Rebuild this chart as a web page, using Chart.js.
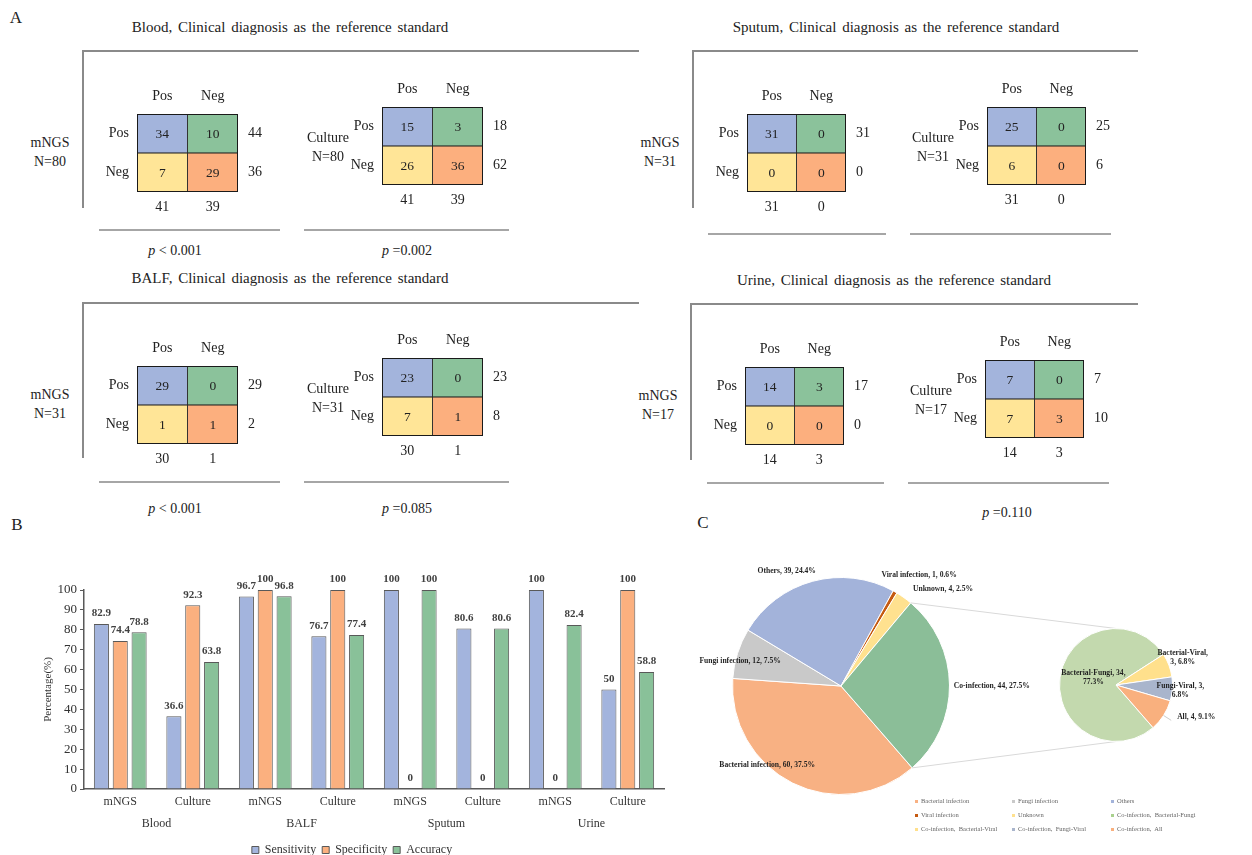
<!DOCTYPE html>
<html>
<head>
<meta charset="utf-8">
<title>mNGS vs culture</title>
<script src="https://cdn.jsdelivr.net/npm/chart.js@4.4.1/dist/chart.umd.min.js"></script>
<style>
  html, body { margin: 0; padding: 0; }
  body { width: 1252px; height: 855px; position: relative; overflow: hidden; background: #fff;
         font-family: 'Liberation Serif', 'Times New Roman', serif; color: #222; }
  .t { position: absolute; white-space: nowrap; transform: translate(-50%, -50%); line-height: 1.35; text-align: center; }
  .ln { position: absolute; }
  canvas { position: absolute; }
  #legendC { position: absolute; left: 915px; top: 797px; display: grid; grid-template-columns: 97px 99px 100px;
             grid-auto-rows: 14px; font-size: 6.5px; color: #666; white-space: pre; }
  #legendC .m { display: inline-block; width: 3px; height: 3px; margin-right: 3px; vertical-align: middle; }
</style>
</head>
<body>
<script>
Chart.defaults.font.family = "'Liberation Serif', 'Times New Roman', serif";
Chart.defaults.color = '#222';
Chart.defaults.animation = false;

// ---- A: 2x2 tables, cells = [Pos/Pos, Pos/Neg, Neg/Pos, Neg/Neg]
// rows = test result, columns = clinical diagnosis
const bloodMngs = [34, 10, 7, 29];
const bloodCulture = [15, 3, 26, 36];
const sputumMngs = [31, 0, 0, 0];
const sputumCulture = [25, 0, 6, 0];
const balfMngs = [29, 0, 1, 1];
const balfCulture = [23, 0, 7, 1];
const urineMngs = [14, 3, 0, 0];
const urineCulture = [7, 0, 7, 3];
const testNames = ['mNGS', 'Culture'];
const posNeg = ['Pos', 'Neg'];
const pBlood = ['< 0.001', '=0.002'];
const pSputum = [null, null];
const pBalf = ['< 0.001', '=0.085'];
const pUrine = [null, '=0.110'];

// ---- B: performance (%)
const methods = ['mNGS', 'Culture', 'mNGS', 'Culture', 'mNGS', 'Culture', 'mNGS', 'Culture'];
const sampleTypes = ['Blood', 'BALF', 'Sputum', 'Urine'];
const sensitivity = [82.9, 36.6, 96.7, 76.7, 100, 80.6, 100, 50];
const specificity = [74.4, 92.3, 100, 100, 0, 0, 0, 100];
const accuracy = [78.8, 63.8, 96.8, 77.4, 100, 80.6, 82.4, 58.8];
const yTicks = [0, 10, 20, 30, 40, 50, 60, 70, 80, 90, 100];

// ---- C: infection types
const infectionTypes = ['Bacterial infection', 'Fungi infection', 'Others', 'Viral infection', 'Unknown', 'Co-infection'];
const infectionCounts = [60, 12, 39, 1, 4, 44];
const coinfectionTypes = ['Bacterial-Fungi', 'Bacterial-Viral', 'Fungi-Viral', 'All'];
const coinfectionCounts = [34, 3, 3, 4];

// colours
const cellBlue = '#A3B4DC', cellGreen = '#8BC29B', cellYellow = '#FFE597', cellOrange = '#FCAF7E';
const barColors = ['#A3B4DD', '#FBB07F', '#89C199'];
const mainColors = ['#F8B183', '#C9C9C9', '#A3B3DA', '#C55A11', '#FFE18F', '#8BBE98'];
const secColors = ['#C3D9AE', '#FFE08C', '#A9B5CC', '#F9B07E'];

// ---------- helpers
function label(x, y, html, css) {
  const d = document.createElement('div');
  d.className = 't';
  d.style.left = x + 'px';
  d.style.top = y + 'px';
  d.innerHTML = html;
  if (css) d.style.cssText += css;
  document.body.appendChild(d);
  return d;
}
function rule(x, y, w, h, color) {
  const d = document.createElement('div');
  d.className = 'ln';
  d.style.cssText += `left:${x}px;top:${y}px;width:${w}px;height:${h}px;background:${color};`;
  document.body.appendChild(d);
}
function canvasAt(x, y, w, h) {
  const cv = document.createElement('canvas');
  cv.width = w; cv.height = h;
  cv.style.left = x + 'px'; cv.style.top = y + 'px';
  cv.style.width = w + 'px'; cv.style.height = h + 'px';
  document.body.appendChild(cv);
  return cv;
}

// ---------- A
const cellText = {
  id: 'cellText',
  afterDatasetsDraw(chart) {
    const ctx = chart.ctx, a = chart.chartArea;
    ctx.save();
    ctx.strokeStyle = '#1a1a1a';
    ctx.lineWidth = 1;
    ctx.strokeRect(a.left + 0.5, a.top + 0.5, a.right - a.left - 1, a.bottom - a.top - 1);
    ctx.font = '13.5px "Liberation Serif"';
    ctx.fillStyle = '#222';
    ctx.textAlign = 'center';
    ctx.textBaseline = 'middle';
    chart.data.datasets.forEach((ds, i) => {
      chart.getDatasetMeta(i).data.forEach((bar, j) => {
        ctx.fillText(String(ds.counts[j]), bar.x, (bar.y + bar.base) / 2 + 1);
      });
    });
    ctx.restore();
  }
};

function makeTable(cells, x, y, w, h) {
  const L = 40, R = 40, T = 30, B = 30;
  const cv = canvasAt(x - L, y - T, w + L + R, h + T + B);
  const posRow = cells.slice(0, 2), negRow = cells.slice(2, 4);
  const rowTot = [posRow[0] + posRow[1], negRow[0] + negRow[1]];
  const colTot = [cells[0] + cells[2], cells[1] + cells[3]];
  const tickFont = { size: 14 };
  const centreTicks = s => { s.ticks = [{ value: 0.5 }, { value: 1.5 }]; };
  const noGrid = { display: false, drawTicks: false };
  new Chart(cv, {
    type: 'bar',
    data: {
      labels: posNeg,
      datasets: [
        { label: 'Neg', data: [1, 1], counts: negRow, backgroundColor: [cellYellow, cellOrange], xAxisID: 'x', yAxisID: 'y' },
        { label: 'Pos', data: [1, 1], counts: posRow, backgroundColor: [cellBlue, cellGreen], xAxisID: 'x', yAxisID: 'y' }
      ]
    },
    options: {
      responsive: false,
      events: [],
      layout: { padding: 0 },
      datasets: { bar: { categoryPercentage: 1, barPercentage: 1, borderColor: '#1a1a1a', borderWidth: 0.8, borderSkipped: false } },
      plugins: { legend: { display: false }, tooltip: { enabled: false } },
      scales: {
        x: { position: 'top', stacked: true, grid: noGrid, border: { display: false },
             ticks: { font: tickFont, padding: 9 }, afterFit: s => { s.height = T; } },
        xt: { type: 'category', position: 'bottom', labels: colTot.map(String), offset: true, grid: noGrid, border: { display: false },
              ticks: { font: tickFont, padding: 7 }, afterFit: s => { s.height = B; } },
        y: { type: 'linear', position: 'left', stacked: true, min: 0, max: 2, grid: noGrid, border: { display: false },
             afterBuildTicks: centreTicks, ticks: { font: tickFont, padding: 8, callback: v => v > 1 ? 'Pos' : 'Neg' },
             afterFit: s => { s.width = L; } },
        yt: { type: 'linear', position: 'right', min: 0, max: 2, grid: noGrid, border: { display: false },
              afterBuildTicks: centreTicks, ticks: { font: tickFont, padding: 10, callback: v => String(v > 1 ? rowTot[0] : rowTot[1]) },
              afterFit: s => { s.width = R; } }
      }
    },
    plugins: [cellText]
  });
}

const panels = [
  { sample: 'Blood', tables: [bloodMngs, bloodCulture], p: pBlood, fx: 82, fy: 50, fr: 639, fb: 208, tx: 290, ty: 27,
    cx: [137, 382], cy: [114, 107], cw: 101, ly: 229, lines: [[99, 280], [304, 509]], py: 251, px: [175, 407] },
  { sample: 'Sputum', tables: [sputumMngs, sputumCulture], p: pSputum, fx: 692, fy: 50, fr: 1138, fb: 208, tx: 896, ty: 27,
    cx: [747, 987], cy: [114, 107], cw: 99, ly: 233, lines: [[708, 886], [910, 1111]], py: 255, px: [797, 1010] },
  { sample: 'BALF', tables: [balfMngs, balfCulture], p: pBalf, fx: 82, fy: 302, fr: 639, fb: 458, tx: 290, ty: 278,
    cx: [137, 382], cy: [366, 358], cw: 101, ly: 481, lines: [[99, 280], [304, 509]], py: 509, px: [175, 407] },
  { sample: 'Urine', tables: [urineMngs, urineCulture], p: pUrine, fx: 690, fy: 303, fr: 1138, fb: 460, tx: 894, ty: 280,
    cx: [745, 985], cy: [367, 360], cw: 99, ly: 482, lines: [[707, 884], [908, 1109]], py: 513, px: [797, 1007] }
];

label(16, 18, 'A', 'font-size:17px;');
panels.forEach(pn => {
  label(pn.tx, pn.ty, `${pn.sample}, Clinical diagnosis as the reference standard`, 'font-size:15px;word-spacing:2px;');
  rule(pn.fx, pn.fy, 1.5, pn.fb - pn.fy, '#8a8a8a');
  rule(pn.fx, pn.fy, pn.fr - pn.fx, 1.5, '#8a8a8a');
  pn.tables.forEach((cells, k) => {
    const x = pn.cx[k], y = pn.cy[k];
    makeTable(cells, x, y, pn.cw, 78);
    const n = cells.reduce((a, b) => a + b, 0);
    if (k === 0) label(x - 87, y + 39, `${testNames[k]}<br>N=${n}`, 'font-size:14px;');
    else label(x - 54, y + 41, `${testNames[k]}<br>N=${n}`, 'font-size:14px;');
    rule(pn.lines[k][0], pn.ly, pn.lines[k][1] - pn.lines[k][0], 2, '#a6a6a6');
    if (pn.p[k]) label(pn.px[k], pn.py, `<i>p</i> ${pn.p[k].replace('<', '&lt;')}`, 'font-size:14px;');
  });
});

// ---------- B
const barValues = {
  id: 'barValues',
  afterDatasetsDraw(chart) {
    const ctx = chart.ctx;
    ctx.save();
    ctx.font = 'bold 11px "Liberation Serif"';
    ctx.fillStyle = '#404040';
    ctx.textAlign = 'center';
    ctx.textBaseline = 'bottom';
    chart.data.datasets.forEach((ds, i) => {
      chart.getDatasetMeta(i).data.forEach((bar, j) => {
        ctx.fillText(String(ds.data[j]), bar.x, bar.y - 5);
      });
    });
    ctx.restore();
  }
};

label(17, 525, 'B', 'font-size:17px;');
const cvB = canvasAt(20, 555, 660, 311);
new Chart(cvB, {
  type: 'bar',
  data: {
    labels: methods,
    datasets: [
      { label: 'Sensitivity', data: sensitivity, backgroundColor: barColors[0] },
      { label: 'Specificity', data: specificity, backgroundColor: barColors[1] },
      { label: 'Accuracy', data: accuracy, backgroundColor: barColors[2] }
    ]
  },
  options: {
    responsive: false,
    events: [],
    layout: { padding: { top: 35, right: 16, left: 20, bottom: 0 } },
    datasets: { bar: { categoryPercentage: 0.78, barPercentage: 0.8, borderColor: '#595959', borderWidth: 1 } },
    plugins: {
      tooltip: { enabled: false },
      legend: { position: 'bottom', labels: { boxWidth: 7, boxHeight: 7, padding: 6, font: { size: 12 }, color: '#333' } }
    },
    scales: {
      x: { position: 'bottom', weight: 0, grid: { display: false, drawTicks: false }, border: { color: '#595959', width: 1.5 },
           ticks: { font: { size: 12 }, color: '#333', padding: 6 }, afterFit: s => { s.height = 27; } },
      x2: { type: 'category', position: 'bottom', weight: 1, labels: sampleTypes, offset: true,
            grid: { display: false, drawTicks: false }, border: { display: false },
            ticks: { font: { size: 12 }, color: '#333', padding: 1 }, afterFit: s => { s.height = 22; } },
      y: { min: 0, max: 100, afterBuildTicks: s => { s.ticks = yTicks.map(v => ({ value: v })); },
           grid: { drawOnChartArea: false, tickLength: 4, color: '#595959' }, border: { color: '#595959', width: 1.5 },
           ticks: { font: { size: 13 }, color: '#333', padding: 3 },
           title: { display: true, text: 'Percentage(%)', font: { size: 11 }, color: '#333', padding: 2 },
           afterFit: s => { s.width = 44; } }
    }
  },
  plugins: [barValues]
});

// ---------- C
const pieLabels = {
  id: 'pieLabels',
  afterDatasetsDraw(chart, args, opts) {
    const ctx = chart.ctx, meta = chart.getDatasetMeta(0);
    const vals = chart.data.datasets[0].data;
    const total = vals.reduce((a, b) => a + b, 0);
    ctx.save();
    ctx.font = 'bold 7.6px "Liberation Serif"';
    ctx.fillStyle = '#1f1f1f';
    ctx.textAlign = 'center';
    ctx.textBaseline = 'middle';
    meta.data.forEach((arc, i) => {
      const parts = [chart.data.labels[i] + ',', vals[i] + ',', (vals[i] / total * 100).toFixed(1) + '%'];
      const br = opts.breaks[i];
      const lines = br < 0 ? [parts.join(' ')] : [parts.slice(0, br + 1).join(' '), parts.slice(br + 1).join(' ')];
      const r = arc.outerRadius;
      const cx = arc.x + opts.offsets[i][0] * r, cy = arc.y + opts.offsets[i][1] * r;
      lines.forEach((l, k) => ctx.fillText(l, cx, cy + (k - (lines.length - 1) / 2) * 9));
      if (opts.leaders && opts.leaders[i]) {
        const mid = (arc.startAngle + arc.endAngle) / 2;
        ctx.strokeStyle = '#bfbfbf';
        ctx.lineWidth = 0.8;
        ctx.beginPath();
        ctx.moveTo(arc.x + Math.cos(mid) * r, arc.y + Math.sin(mid) * r);
        ctx.lineTo(arc.x + Math.cos(mid) * r * 1.16, arc.y + Math.sin(mid) * r * 1.16);
        ctx.stroke();
      }
    });
    ctx.restore();
  }
};

label(703, 523, 'C', 'font-size:17px;');
const cvMain = canvasAt(690, 540, 562, 260);
const mainPie = new Chart(cvMain, {
  type: 'pie',
  data: { labels: infectionTypes, datasets: [{ data: infectionCounts, backgroundColor: mainColors, borderColor: '#fff', borderWidth: 1 }] },
  options: {
    responsive: false,
    events: [],
    rotation: 139,
    layout: { padding: { left: 42, top: 37, right: 302, bottom: 5 } },
    plugins: {
      legend: { display: false }, tooltip: { enabled: false },
      pieLabels: {
        offsets: [[-0.68, 0.73], [-0.93, -0.23], [-0.50, -1.06], [0.72, -1.02], [0.94, -0.89], [1.39, 0.0]],
        breaks: [-1, -1, -1, -1, -1, -1]
      }
    }
  },
  plugins: [pieLabels]
});

const connectors = {
  id: 'connectors',
  beforeDatasetsDraw(chart) {
    const src = mainPie.getDatasetMeta(0).data[infectionTypes.length - 1];
    const dst = chart.getDatasetMeta(0).data[0];
    const ctx = chart.ctx;
    ctx.save();
    ctx.strokeStyle = '#d9d9d9';
    ctx.lineWidth = 1;
    ctx.beginPath();
    ctx.moveTo(src.x + Math.cos(src.startAngle) * src.outerRadius, src.y + Math.sin(src.startAngle) * src.outerRadius);
    ctx.lineTo(dst.x, dst.y - dst.outerRadius);
    ctx.moveTo(src.x + Math.cos(src.endAngle) * src.outerRadius, src.y + Math.sin(src.endAngle) * src.outerRadius);
    ctx.lineTo(dst.x, dst.y + dst.outerRadius);
    ctx.stroke();
    ctx.restore();
  }
};

const cvSec = canvasAt(690, 540, 562, 260);
new Chart(cvSec, {
  type: 'pie',
  data: { labels: coinfectionTypes, datasets: [{ data: coinfectionCounts, backgroundColor: secColors, borderColor: '#fff', borderWidth: 1 }] },
  options: {
    responsive: false,
    events: [],
    rotation: 139,
    layout: { padding: { left: 369, top: 88, right: 79, bottom: 58 } },
    plugins: {
      legend: { display: false }, tooltip: { enabled: false },
      pieLabels: {
        offsets: [[-0.40, -0.13], [1.18, -0.48], [1.14, 0.10], [1.42, 0.56]],
        breaks: [1, 0, 1, -1],
        leaders: [false, false, false, true]
      }
    }
  },
  plugins: [connectors, pieLabels]
});

// legend for C, three columns
const legendC = document.createElement('div');
legendC.id = 'legendC';
const legendItems = infectionTypes.slice(0, 5).map((n, i) => [n, mainColors[i]])
  .concat(coinfectionTypes.map((n, i) => ['Co-infection,  ' + n, i === 0 ? '#A9D18E' : secColors[i]]));
legendItems.forEach(([name, col]) => {
  const it = document.createElement('div');
  it.innerHTML = `<span class="m" style="background:${col}"></span>${name}`;
  legendC.appendChild(it);
});
document.body.appendChild(legendC);
</script>
</body>
</html>
